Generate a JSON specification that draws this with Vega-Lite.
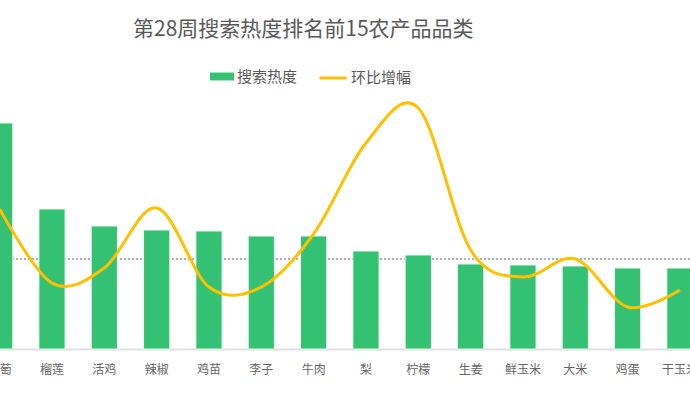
{
  "$schema": "https://vega.github.io/schema/vega-lite/v6.json",
  "autosize": {"type": "none"},
  "padding": {"top": 99, "left": 0, "right": 0, "bottom": 47},
  "width": 690,
  "height": 250,
  "background": "white",
  "config": {
    "view": {"stroke": null},
    "font": "Noto Sans CJK SC"
  },
  "title": {
    "text": "第28周搜索热度排名前15农产品品类",
    "anchor": "start",
    "frame": "group",
    "dx": 133,
    "fontSize": 21,
    "fontWeight": "normal",
    "color": "#595959",
    "font": "Noto Sans CJK SC",
    "offset": 23
  },
  "data": {
    "values": [
      {"品类": "葡萄", "搜索热度": 90.4, "环比增幅": 25},
      {"品类": "榴莲", "搜索热度": 56, "环比增幅": -12},
      {"品类": "活鸡", "搜索热度": 49.2, "环比增幅": -4.5},
      {"品类": "辣椒", "搜索热度": 47.6, "环比增幅": 25.5},
      {"品类": "鸡苗", "搜索热度": 47.2, "环比增幅": -14},
      {"品类": "李子", "搜索热度": 45.2, "环比增幅": -14},
      {"品类": "牛肉", "搜索热度": 45.2, "环比增幅": 12.5},
      {"品类": "梨", "搜索热度": 39.2, "环比增幅": 58},
      {"品类": "柠檬", "搜索热度": 37.6, "环比增幅": 75.5},
      {"品类": "生姜", "搜索热度": 34, "环比增幅": 4.5},
      {"品类": "鲜玉米", "搜索热度": 33.6, "环比增幅": -9},
      {"品类": "大米", "搜索热度": 33.2, "环比增幅": 0},
      {"品类": "鸡蛋", "搜索热度": 32.4, "环比增幅": -24},
      {"品类": "干玉米", "搜索热度": 32.4, "环比增幅": -15.5}
    ]
  },
  "encoding": {
    "x": {
      "field": "品类",
      "type": "nominal",
      "sort": null,
      "scale": {"range": [-39.6, 719.2], "paddingInner": 0.5, "paddingOuter": 0.5},
      "axis": {
        "title": null,
        "labelAngle": 0,
        "ticks": false,
        "labelPadding": 15,
        "labelFontSize": 12,
        "labelColor": "#666666",
        "labelFont": "Noto Sans CJK SC",
        "domainColor": "#e0e0e0",
        "domainWidth": 2,
        "grid": false
      }
    }
  },
  "layer": [
    {
      "mark": {"type": "rule", "strokeDash": [2, 2], "color": "#b0b0b0", "strokeWidth": 1},
      "encoding": {
        "x": null,
        "y": {"datum": 0, "type": "quantitative", "scale": {"domain": [-45, 80]}, "axis": null}
      }
    },
    {
      "mark": {"type": "bar", "stroke": "#e6f5ec", "strokeWidth": 1},
      "encoding": {
        "y": {"field": "搜索热度", "type": "quantitative", "scale": {"domain": [0, 100]}, "axis": null},
        "color": {
          "datum": "搜索热度",
          "scale": {"domain": ["搜索热度"], "range": ["#35C173"]},
          "legend": {
            "title": null,
            "orient": "none",
            "legendX": 210,
            "legendY": -34.5,
            "padding": 0,
            "symbolType": "M-1,-0.33H1V0.33H-1Z",
            "symbolSize": 576,
            "symbolStrokeWidth": 0,
            "labelFontSize": 15,
            "labelColor": "#595959",
            "labelFont": "Noto Sans CJK SC",
            "labelOffset": 3
          }
        }
      }
    },
    {
      "mark": {"type": "line", "interpolate": "cardinal", "strokeWidth": 3},
      "encoding": {
        "y": {"field": "环比增幅", "type": "quantitative", "scale": {"domain": [-45, 80]}, "axis": null},
        "color": {
          "datum": "环比增幅",
          "scale": {"domain": ["环比增幅"], "range": ["#FFC000"]},
          "legend": {
            "title": null,
            "orient": "none",
            "legendX": 318,
            "legendY": -36,
            "padding": 0,
            "symbolType": "stroke",
            "symbolSize": 729,
            "symbolStrokeWidth": 3,
            "labelFontSize": 15,
            "labelColor": "#595959",
            "labelFont": "Noto Sans CJK SC",
            "labelOffset": 3
          }
        }
      }
    }
  ],
  "resolve": {"scale": {"y": "independent", "color": "independent"}}
}
